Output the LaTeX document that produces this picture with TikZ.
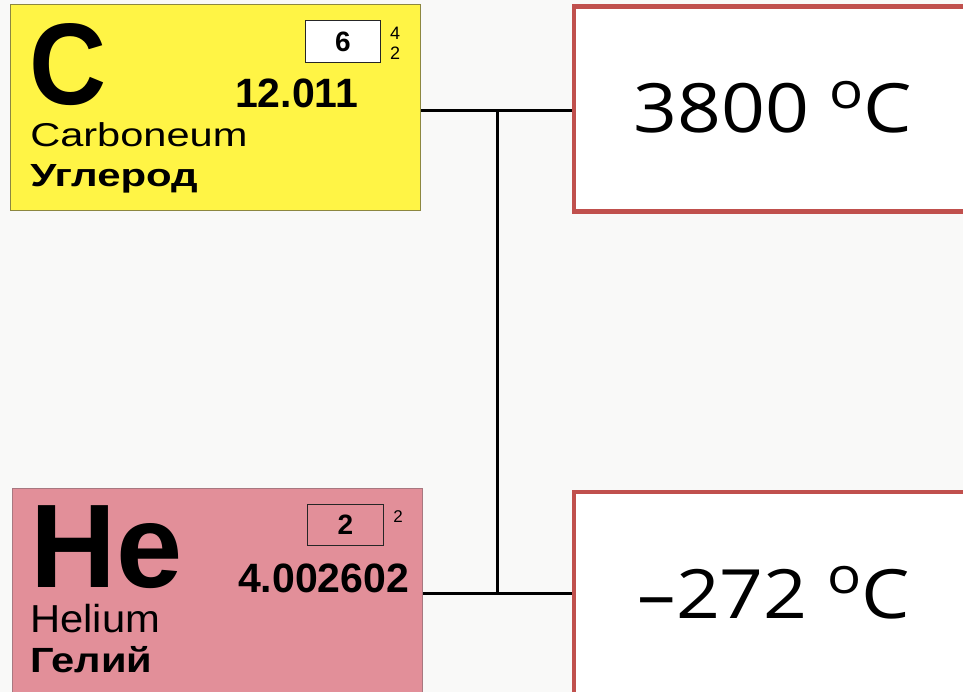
\documentclass[tikz,border=0pt]{standalone}
\usepackage{fontspec}
\setmainfont{Liberation Sans}
\newfontfamily\osans{Open Sans}
\newcommand\fsz[1]{\fontsize{#1}{#1}\selectfont}
\definecolor{bgC}{HTML}{F9F9F8}
\definecolor{yellowC}{HTML}{FFF445}
\definecolor{yellowB}{HTML}{8C8740}
\definecolor{pinkC}{HTML}{E28F99}
\definecolor{pinkB}{HTML}{A87880}
\definecolor{redB}{HTML}{C0504D}
\tikzset{
  cell/.style={rectangle, anchor=north west, inner sep=0pt, line width=1pt},
  txt/.style={inner sep=0pt, anchor=base west, text=black},
  numbox/.style={rectangle, anchor=north west, inner sep=0pt, draw=black!85, line width=0.9pt},
  tempbox/.style={rectangle, anchor=north west, inner sep=0pt, draw=redB, fill=white, line width=4.5pt},
  temp/.style={inner sep=0pt, anchor=base, font=\osans\fsz{68}, xscale=1.13, transform shape},
  link/.style={draw=black, line width=3pt}
}
\newcommand\degsign{\raisebox{0.36em}{\fsz{50}o}}
\begin{document}
\begin{tikzpicture}[x=1pt,y=-1pt]
\useasboundingbox (0,0) rectangle (963,692);
\clip (0,0) rectangle (963,692);
\fill[bgC] (0,0) rectangle (963,692);

% Carbon cell
\node[cell, fill=yellowC, draw=yellowB, minimum width=410pt, minimum height=206pt] (Ccell) at (10,4) {};
\node[txt, font=\bfseries\fsz{116}, xscale=0.92, transform shape] (Csym) at (29,105) {C};
\node[numbox, fill=white, minimum width=75pt, minimum height=42pt] (Cnbox) at (305,20) {};
\node[inner sep=0pt, font=\bfseries\fsz{28}] (Cnum) at (Cnbox.center) {6};
\node[inner sep=0pt, font=\fsz{18}] (Cs1) at (395,33.5) {4};
\node[inner sep=0pt, font=\fsz{18}] (Cs2) at (395,53.5) {2};
\node[txt, font=\bfseries\fsz{41}] (Cmass) at (235,108) {12.011};
\node[txt, font=\fsz{33}, xscale=1.26, transform shape] (Clat) at (30,147) {Carboneum};
\node[txt, font=\bfseries\fsz{32}, xscale=1.31, transform shape] (Crus) at (30,187) {Углерод};

% Helium cell
\node[cell, fill=pinkC, draw=pinkB, minimum width=410pt, minimum height=215pt] (Hcell) at (12,488) {};
\node[txt, font=\bfseries\fsz{119}] (Hsym) at (30,587) {He};
\node[numbox, minimum width=76pt, minimum height=41pt] (Hnbox) at (307,504) {};
\node[inner sep=0pt, font=\bfseries\fsz{28}] (Hnum) at (Hnbox.center) {2};
\node[inner sep=0pt, font=\fsz{17}] (Hs1) at (398,517) {2};
\node[txt, font=\bfseries\fsz{41}] (Hmass) at (238,592) {4.002602};
\node[txt, font=\fsz{39}, xscale=1.07, transform shape] (Hlat) at (30,632) {Helium};
\node[txt, font=\bfseries\fsz{35}, xscale=1.19, transform shape] (Hrus) at (30,672) {Гелий};

% Temperature boxes
\node[tempbox, minimum width=430pt, minimum height=205pt] (T1) at (571.5,4.5) {};
\node[temp] (T1txt) at (773,133) {3800 \degsign C};
\node[tempbox, minimum width=430pt, minimum height=240pt] (T2) at (571.5,489.5) {};
\node[temp] (T2txt) at (774,618) {–272 \degsign C};

% Connectors
\coordinate (j1) at (497,110.5);
\coordinate (j2) at (497,593);
\draw[link] (Ccell.east |- j1) -- (T1.west |- j1);
\draw[link] (j1) -- (j2);
\draw[link] (Hcell.east |- j2) -- (T2.west |- j2);
\end{tikzpicture}
\end{document}
